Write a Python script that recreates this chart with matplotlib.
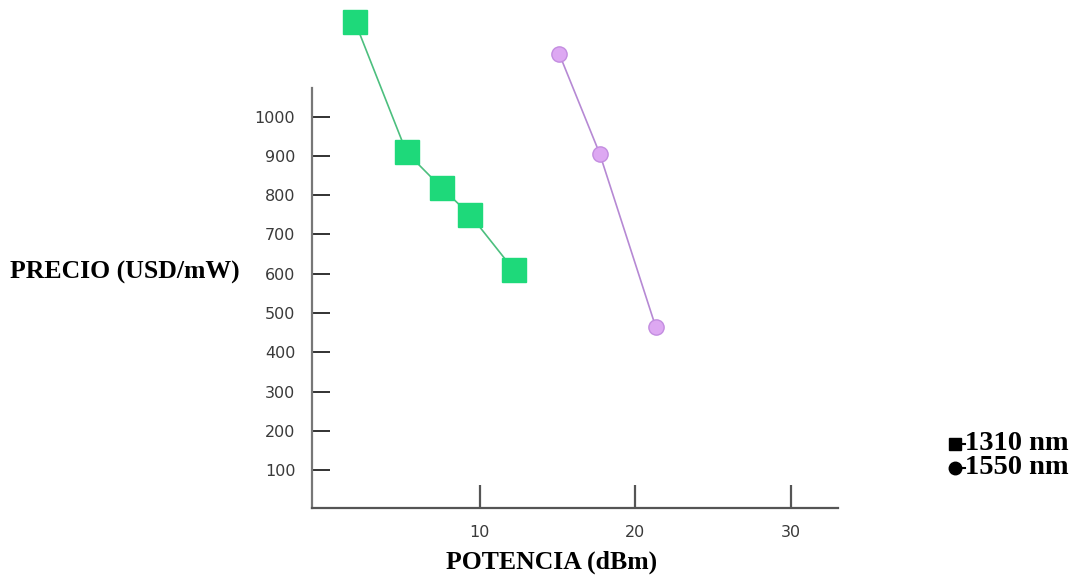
import matplotlib
matplotlib.use("Agg")
import matplotlib.pyplot as plt
from matplotlib.lines import Line2D

# Data
pot_1310 = [2.0, 5.3, 7.6, 9.4, 12.2]
precio_1310 = [1240, 909, 817, 749, 609]
pot_1550 = [15.1, 17.7, 21.3]
precio_1550 = [1160, 906, 465]
yticks = [100, 200, 300, 400, 500, 600, 700, 800, 900, 1000]
xticks = [10, 20, 30]
series_labels = ["1310 nm", "1550 nm"]

W, H = 1091, 575
fig = plt.figure(figsize=(W / 100, H / 100), dpi=100)
ax = fig.add_axes([0.286, 0.1165, 0.482, 0.730])

ax.plot(pot_1310, precio_1310, color="#4CBF7E", lw=1.2, zorder=2, clip_on=False)
ax.plot(pot_1310, precio_1310, ls="none", marker="s", markersize=17,
        markerfacecolor="#1ED97A", markeredgecolor="#1ED97A", zorder=3, clip_on=False)
ax.plot(pot_1550, precio_1550, color="#B689D4", lw=1.2, zorder=2, clip_on=False)
ax.plot(pot_1550, precio_1550, ls="none", marker="o", markersize=11,
        markerfacecolor="#DDA8F2", markeredgecolor="#C38DE0", markeredgewidth=1, zorder=3, clip_on=False)

ax.set_xlim(-0.77, 33)
ax.set_ylim(4, 1072)
for s in ["top", "right"]:
    ax.spines[s].set_visible(False)
ax.spines["left"].set_color("#777777")
ax.spines["left"].set_linewidth(1.6)
ax.spines["bottom"].set_color("#555555")
ax.spines["bottom"].set_linewidth(1.6)

ax.set_yticks(yticks)
ax.set_xticks(xticks)
ax.tick_params(axis="y", direction="in", length=13, width=1.3, color="#222222",
               pad=12, labelsize=11.5, labelcolor="#3a3a3a")
ax.tick_params(axis="x", direction="in", length=16.5, width=1.6, color="#555555",
               pad=12, labelsize=11.5, labelcolor="#3a3a3a")

fig.text(0.009, 0.527, "PRECIO (USD/mW)", family="Liberation Serif", weight="bold",
         fontsize=18.5, ha="left", va="center")
fig.text(0.506, 0.022, "POTENCIA (dBm)", family="Liberation Serif", weight="bold",
         fontsize=18.5, ha="center", va="center")

# legend, drawn by hand in figure coordinates
leg_rows = [(444, "s", 9), (468, "o", 9)]
for (ypx, mk, ms), lab in zip(leg_rows, series_labels):
    yf = 1 - ypx / H
    fig.add_artist(Line2D([955 / W, 965 / W], [yf, yf], transform=fig.transFigure,
                          color="black", lw=1.5))
    fig.add_artist(Line2D([955 / W], [yf], transform=fig.transFigure, color="black",
                          marker=mk, markersize=ms, ls="none"))
    fig.text(965 / W, yf, lab, family="Liberation Serif", fontsize=20.5,
             weight="bold", ha="left", va="center")

fig.savefig("out.png", dpi=100)
